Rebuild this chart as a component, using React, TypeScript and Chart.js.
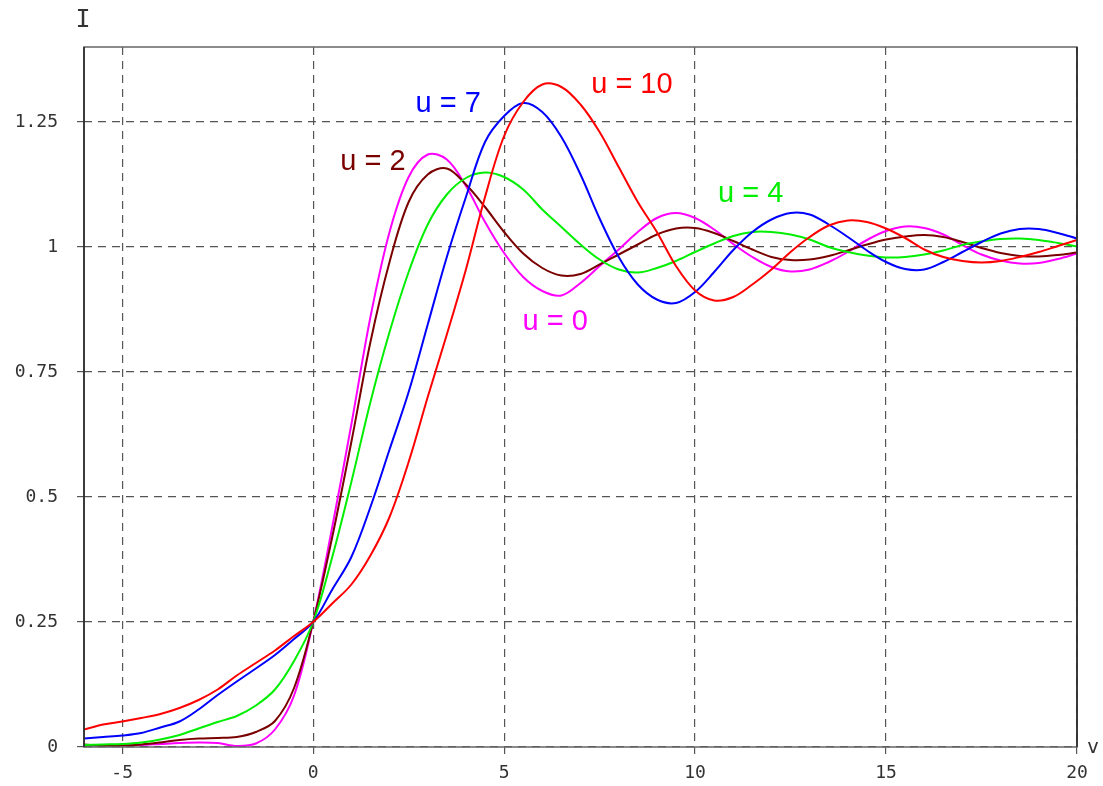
import React, { useEffect, useRef } from "react";
import { Chart, registerables } from "chart.js";

Chart.register(...registerables);

const vValues = [
  -6, -5.5, -5, -4.5, -4, -3.5, -3, -2.5, -2, -1.5, -1, -0.5, 0, 0.5, 1, 1.5, 2, 2.5, 3, 3.5, 4, 4.5,
  5, 5.5, 6, 6.5, 7, 7.5, 8, 8.5, 9, 9.5, 10, 10.5, 11, 11.5, 12, 12.5, 13, 13.5, 14, 14.5, 15, 15.5,
  16, 16.5, 17, 17.5, 18, 18.5, 19, 19.5, 20,
];

const u10 = [
  0.035, 0.045, 0.051, 0.058, 0.066, 0.078, 0.094, 0.115, 0.143, 0.168, 0.193, 0.222, 0.25, 0.287, 0.325,
  0.383, 0.46, 0.57, 0.70, 0.825, 0.955, 1.10, 1.222, 1.29, 1.325, 1.32, 1.285, 1.23, 1.16, 1.09, 1.03,
  0.962, 0.913, 0.893, 0.9, 0.925, 0.955, 0.99, 1.02, 1.043, 1.053, 1.05, 1.037, 1.018, 0.995, 0.98,
  0.972, 0.969, 0.972, 0.98, 0.99, 1.002, 1.014,
];

const u7 = [
  0.017, 0.02, 0.023, 0.028, 0.039, 0.051, 0.075, 0.104, 0.131, 0.157, 0.184, 0.216, 0.25, 0.315, 0.38,
  0.48, 0.595, 0.71, 0.845, 0.98, 1.10, 1.21, 1.262, 1.288, 1.27, 1.22, 1.145, 1.057, 0.98, 0.925, 0.895,
  0.888, 0.91, 0.95, 0.994, 1.03, 1.055, 1.068, 1.065, 1.045, 1.02, 0.993, 0.97, 0.956, 0.955, 0.97, 0.99,
  1.01, 1.027, 1.036, 1.036, 1.028, 1.017,
];

const u4 = [
  0.004, 0.005, 0.006, 0.009, 0.015, 0.024, 0.037, 0.05, 0.062, 0.083, 0.115, 0.172, 0.25, 0.38, 0.53,
  0.69, 0.83, 0.95, 1.045, 1.105, 1.138, 1.149, 1.14, 1.115, 1.075, 1.04, 1.005, 0.975, 0.955, 0.949,
  0.958, 0.972, 0.99, 1.007, 1.022, 1.03, 1.03, 1.025, 1.015, 1.0, 0.99, 0.983, 0.979, 0.98, 0.985,
  0.993, 1.004, 1.011, 1.016, 1.017, 1.014, 1.008, 1.001,
];

const u2 = [
  0.005, 0.003, 0.003, 0.005, 0.009, 0.014, 0.017, 0.018, 0.02, 0.03, 0.052, 0.118, 0.25, 0.42, 0.61,
  0.81, 0.97, 1.09, 1.145, 1.157, 1.125, 1.08, 1.03, 0.987, 0.958, 0.943, 0.946, 0.965, 0.985, 1.005,
  1.025, 1.037, 1.038, 1.028, 1.012, 0.995, 0.98, 0.974, 0.975, 0.982, 0.993, 1.005, 1.015, 1.021, 1.024,
  1.02, 1.01, 0.998, 0.988, 0.982, 0.981, 0.984, 0.989,
];

const u0 = [
  0.004, 0.003, 0.003, 0.004, 0.006, 0.008, 0.009, 0.008, 0.002, 0.007, 0.035, 0.103, 0.25, 0.44, 0.645,
  0.86, 1.03, 1.14, 1.185, 1.175, 1.122, 1.05, 0.988, 0.94, 0.912, 0.903, 0.928, 0.962, 0.995, 1.03,
  1.058, 1.068, 1.058, 1.035, 1.006, 0.98, 0.96, 0.951, 0.955, 0.97, 0.99, 1.014, 1.032, 1.041, 1.038,
  1.025, 1.004, 0.985, 0.973, 0.967, 0.968, 0.976, 0.987,
];

const seriesNames = ["u = 10", "u = 7", "u = 4", "u = 2", "u = 0"];
const seriesValues = [u10, u7, u4, u2, u0];
const seriesColors = ["#ff0000", "#0000ff", "#00ee00", "#7a0000", "#ff00ff"];

// label anchor points in data coordinates (v, I)
const labelV = [7.28, 2.68, 10.6, 0.71, 5.48];
const labelI = [1.309, 1.271, 1.091, 1.154, 0.835];

const xTicks = [-5, 0, 5, 10, 15, 20];
const yTicks = [0, 0.25, 0.5, 0.75, 1, 1.25];
const yTickLabels = ["0", "0.25", "0.5", "0.75", "1", "1.25"];

const X_MIN = -6;
const X_MAX = 20;
const Y_MIN = 0;
const Y_MAX = 1.4;

const tickFont = '"DejaVu Sans Mono", monospace';
const gridColor = "#555555";

export default function App() {
  const canvasRef = useRef<HTMLCanvasElement | null>(null);

  useEffect(() => {
    const canvas = canvasRef.current;
    if (!canvas) return;

    const extras = {
      id: "extras",
      afterDatasetsDraw(chart: any) {
        const ctx = chart.ctx;
        const { left, right, top, bottom } = chart.chartArea;
        const xs = chart.scales.x;
        const ys = chart.scales.y;
        ctx.save();
        // box
        ctx.strokeStyle = "#666666";
        ctx.lineWidth = 1.5;
        ctx.setLineDash([]);
        ctx.strokeRect(left, top, right - left, bottom - top);
        ctx.strokeStyle = "#222222";
        ctx.beginPath();
        ctx.moveTo(left, top);
        ctx.lineTo(left, bottom);
        ctx.moveTo(right, top);
        ctx.lineTo(right, bottom);
        ctx.stroke();
        // curve labels
        ctx.font = '29px "Liberation Sans", Arial, sans-serif';
        ctx.textAlign = "left";
        ctx.textBaseline = "alphabetic";
        seriesNames.forEach((name, i) => {
          ctx.fillStyle = seriesColors[i];
          ctx.fillText(name, xs.getPixelForValue(labelV[i]), ys.getPixelForValue(labelI[i]));
        });
        // axis titles
        ctx.fillStyle = "#333333";
        ctx.font = '25px ' + tickFont;
        ctx.textAlign = "center";
        ctx.textBaseline = "alphabetic";
        ctx.fillText("I", left - 1, top - 20);
        ctx.font = '20px ' + tickFont;
        ctx.textAlign = "left";
        ctx.fillText("v", right + 10, bottom + 6);
        ctx.restore();
      },
    };

    const gridOpts = {
      color: gridColor,
      lineWidth: 1.2,
      drawTicks: true,
      tickLength: 7,
      tickColor: gridColor,
      tickWidth: 1.2,
      tickBorderDash: [8, 6],
    };

    const chart = new Chart(canvas, {
      type: "line",
      data: {
        datasets: seriesValues.map((vals, i) => ({
          label: seriesNames[i],
          data: vals.map((y, k) => ({ x: vValues[k], y })),
          borderColor: seriesColors[i],
          backgroundColor: seriesColors[i],
          borderWidth: 2,
          pointRadius: 0,
          tension: 0.35,
          fill: false,
        })),
      },
      options: {
        animation: false,
        responsive: false,
        devicePixelRatio: 1,
        layout: { padding: { left: 0, right: 26, top: 47, bottom: 0 } },
        plugins: {
          legend: { display: false },
          tooltip: { enabled: false },
        },
        scales: {
          x: {
            type: "linear",
            min: X_MIN,
            max: X_MAX,
            afterBuildTicks: (scale: any) => {
              scale.ticks = xTicks.map((value) => ({ value }));
            },
            afterFit: (scale: any) => {
              scale.height = 39;
            },
            border: { display: false, dash: [8, 6] },
            grid: gridOpts,
            ticks: {
              padding: 9,
              color: "#333333",
              maxRotation: 0,
              font: { family: tickFont, size: 18 },
              callback: (v: any) => String(v),
            },
          },
          y: {
            type: "linear",
            min: Y_MIN,
            max: Y_MAX,
            afterBuildTicks: (scale: any) => {
              scale.ticks = yTicks.map((value) => ({ value }));
            },
            afterFit: (scale: any) => {
              scale.width = 84;
            },
            border: { display: false, dash: [8, 6] },
            grid: gridOpts,
            ticks: {
              padding: 19,
              color: "#333333",
              font: { family: tickFont, size: 18 },
              callback: (v: any) => {
                const idx = yTicks.indexOf(Number(v));
                return idx >= 0 ? yTickLabels[idx] : "";
              },
            },
          },
        },
      },
      plugins: [extras],
    } as any);

    return () => {
      chart.destroy();
    };
  }, []);

  return (
    <div style={{ position: "absolute", left: 0, top: 0, width: 1103, height: 786, background: "#ffffff" }}>
      <canvas ref={canvasRef} width={1103} height={786} style={{ display: "block" }} />
    </div>
  );
}
